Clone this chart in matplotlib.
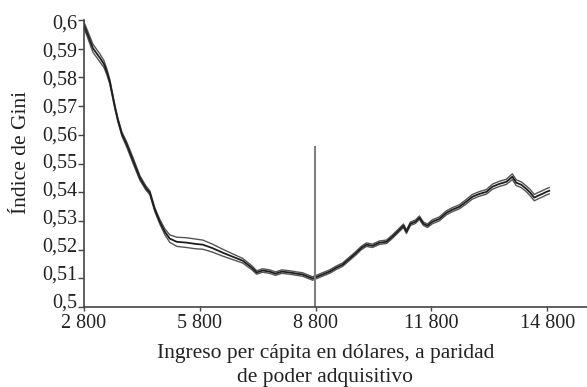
import matplotlib
matplotlib.use("Agg")
import matplotlib.pyplot as plt
from matplotlib.ticker import FuncFormatter
from matplotlib.transforms import ScaledTranslation

income = [2800, 2903, 3033, 3214, 3317, 3395, 3472, 3524, 3602, 3679, 3783, 3912, 4067,
          4248, 4403, 4507, 4636, 4765, 4895, 5024, 5205, 5464, 5671, 5878, 6110, 6395,
          6653, 6912, 7145, 7274, 7429, 7610, 7765, 7921, 8128, 8309, 8464, 8593, 8722,
          8852, 8981, 9162, 9343, 9498, 9679, 9834, 9990, 10119, 10274, 10455, 10636,
          10791, 10972, 11076, 11153, 11257, 11386, 11490, 11593, 11697, 11826, 12007,
          12188, 12343, 12524, 12705, 12860, 13041, 13222, 13378, 13559, 13740, 13895,
          13998, 14128, 14257, 14360, 14464, 14567, 14671, 14774, 14852]
gini = [0.5983, 0.5948, 0.5902, 0.5868, 0.5847, 0.5819, 0.5784, 0.5749, 0.5697, 0.5652,
        0.5603, 0.5565, 0.5512, 0.5450, 0.5415, 0.5398, 0.5339, 0.5297, 0.5262, 0.5238,
        0.5227, 0.5224, 0.5220, 0.5217, 0.5206, 0.5189, 0.5175, 0.5161, 0.5137, 0.5120,
        0.5127, 0.5123, 0.5116, 0.5123, 0.5120, 0.5116, 0.5113, 0.5106, 0.5099, 0.5106,
        0.5113, 0.5123, 0.5137, 0.5147, 0.5168, 0.5186, 0.5206, 0.5217, 0.5213, 0.5224,
        0.5227, 0.5245, 0.5269, 0.5283, 0.5262, 0.5290, 0.5297, 0.5311, 0.5290, 0.5283,
        0.5297, 0.5307, 0.5328, 0.5339, 0.5349, 0.5367, 0.5384, 0.5394, 0.5401, 0.5419,
        0.5429, 0.5436, 0.5454, 0.5433, 0.5426, 0.5412, 0.5398, 0.5381, 0.5388, 0.5394,
        0.5401, 0.5405]
band = [0.0010, 0.0012, 0.0014, 0.0014, 0.0012, 0.0010, 0.0008, 0.0007, 0.0006, 0.0006,
        0.0007, 0.0009, 0.0010, 0.0008, 0.0007, 0.0007, 0.0007, 0.0008, 0.0010, 0.0013,
        0.0016, 0.0017, 0.0017, 0.0016, 0.0014, 0.0012, 0.0010, 0.0008, 0.0007, 0.0006,
        0.0006, 0.0006, 0.0006, 0.0006, 0.0006, 0.0006, 0.0006, 0.0006, 0.0006, 0.0006,
        0.0006, 0.0006, 0.0006, 0.0006, 0.0006, 0.0006, 0.0006, 0.0006, 0.0006, 0.0006,
        0.0006, 0.0006, 0.0006, 0.0006, 0.0006, 0.0006, 0.0006, 0.0006, 0.0006, 0.0006,
        0.0007, 0.0007, 0.0007, 0.0007, 0.0007, 0.0008, 0.0008, 0.0008, 0.0008, 0.0009,
        0.0009, 0.0009, 0.0010, 0.0010, 0.0010, 0.0010, 0.0011, 0.0011, 0.0011, 0.0011,
        0.0011, 0.0011]
upper = [g + b for g, b in zip(gini, band)]
lower = [g - b for g, b in zip(gini, band)]

threshold_x = 8780
threshold_top = 0.5557

x_ticks = [2800, 5800, 8800, 11800, 14800]
y_ticks = [0.50, 0.51, 0.52, 0.53, 0.54, 0.55, 0.56, 0.57, 0.58, 0.59, 0.60]

plt.rcParams['font.family'] = ['Liberation Serif', 'DejaVu Serif']

fig = plt.figure(figsize=(5.87, 3.87), dpi=100)
ax = fig.add_axes([0.143, 0.207, 0.857, 0.741])

for series in (upper, lower):
    ax.plot(income, series, color='#555555', lw=1.0, solid_joinstyle='round')
ax.plot(income, gini, color='#1e1e1e', lw=1.3, solid_joinstyle='round')

ax.plot([threshold_x, threshold_x], [0.5, threshold_top], color='#808080', lw=1.5)

ax.set_xlim(2800, 15830)
ax.set_ylim(0.5, 0.6)
ax.set_xticks(x_ticks)
ax.set_yticks(y_ticks)


def fmt_x(v, pos):
    return f"{int(round(v)):,}".replace(",", " ")


def fmt_y(v, pos):
    s = f"{v:.2f}".rstrip("0")
    if s.endswith("."):
        s = s[:-1]
    return s.replace(".", ",")


ax.xaxis.set_major_formatter(FuncFormatter(fmt_x))
ax.yaxis.set_major_formatter(FuncFormatter(fmt_y))

ax.spines['top'].set_visible(False)
ax.spines['right'].set_visible(False)
for sp in ('left', 'bottom'):
    ax.spines[sp].set_color('#444444')
    ax.spines[sp].set_linewidth(1.2)

ax.tick_params(axis='y', direction='out', length=4, width=1, colors='#444444',
               labelsize=14.5, labelcolor='#222222', pad=1)
ax.tick_params(axis='x', direction='out', length=3, width=1, colors='#444444',
               labelsize=14.5, labelcolor='#222222', pad=2)

# y labels in the original drift slightly upward toward the bottom
fig.canvas.draw()
for tick_val, lab in zip(ax.get_yticks(), ax.get_yticklabels()):
    dy = (0.6 - tick_val) / 0.1 * 8.0 - 1.5
    lab.set_transform(lab.get_transform() + ScaledTranslation(0, dy / 100.0, fig.dpi_scale_trans))

ax.set_xlabel("Ingreso per cápita en dólares, a paridad\nde poder adquisitivo",
              fontsize=15.5, color='#222222', linespacing=1.35)
ax.xaxis.set_label_coords(0.48, -0.13, transform=ax.transAxes)
ax.xaxis.label.set_va('top')
ax.set_ylabel("Índice de Gini", fontsize=15.5, color='#222222')
ax.yaxis.set_label_coords(-0.105, 0.54, transform=ax.transAxes)

fig.savefig("out.png", dpi=100)
